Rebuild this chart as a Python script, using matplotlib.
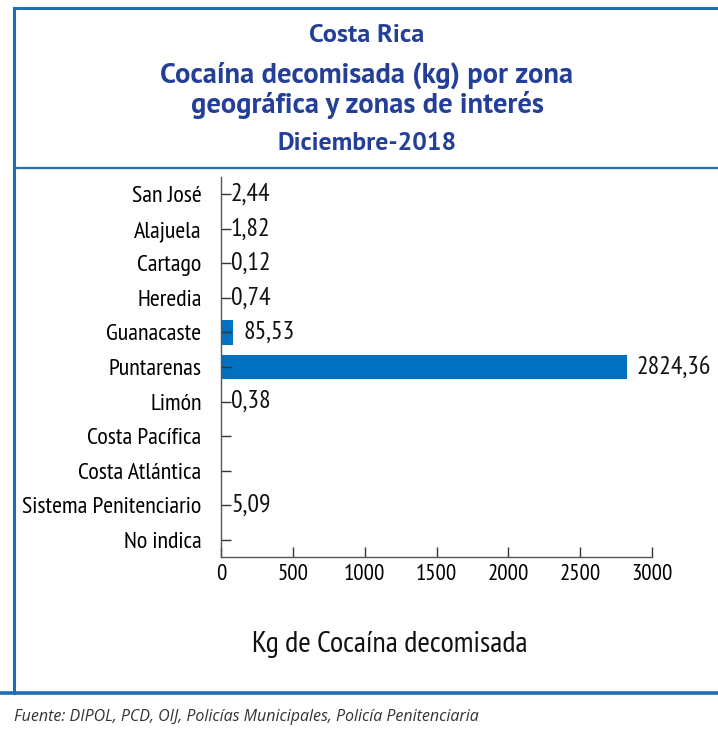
import matplotlib
matplotlib.use("Agg")
import logging
logging.getLogger("matplotlib.font_manager").setLevel(logging.ERROR)
import matplotlib.pyplot as plt
import numpy as np
from matplotlib.lines import Line2D

categories = ["San José", "Alajuela", "Cartago", "Heredia", "Guanacaste", "Puntarenas",
              "Limón", "Costa Pacífica", "Costa Atlántica", "Sistema Penitenciario", "No indica"]
values = [2.44, 1.82, 0.12, 0.74, 85.53, 2824.36, 0.38, np.nan, np.nan, 5.09, np.nan]
xticks = [0, 500, 1000, 1500, 2000, 2500, 3000]

title_lines = ["Costa Rica", "Cocaína decomisada (kg) por zona", "geográfica y zonas de interés", "Diciembre-2018"]
xlabel = "Kg de Cocaína decomisada"
source = "Fuente: DIPOL, PCD, OIJ, Policías Municipales, Policía Penitenciaria"

NARROW = ["PT Sans Narrow", "Roboto Condensed", "Open Sans Condensed", "DejaVu Sans"]
TITLE_FONT = ["PT Sans", "Open Sans", "DejaVu Sans"]
SRC_FONT = ["Open Sans", "DejaVu Sans"]
BLUE = "#0070C0"
TBLUE = "#243F98"

W, H = 718, 732
fig = plt.figure(figsize=(W/100, H/100), dpi=100)
fig.patch.set_facecolor("white")

def fx(px): return px / W
def fy(py): return 1 - py / H

# Frame lines
frame_col = "#1F6FB5"
fig.add_artist(Line2D([fx(14), fx(14)], [fy(8), fy(693)], color=frame_col, lw=2.2, transform=fig.transFigure))
fig.add_artist(Line2D([fx(14), fx(718)], [fy(8), fy(8)], color=frame_col, lw=2.2, transform=fig.transFigure))
fig.add_artist(Line2D([fx(14), fx(718)], [fy(168), fy(168)], color=frame_col, lw=1.6, transform=fig.transFigure))
fig.add_artist(Line2D([0, 1], [fy(693), fy(693)], color=frame_col, lw=2.6, transform=fig.transFigure))

# Titles
fig.text(fx(367), fy(35), title_lines[0], ha="center", va="center", fontsize=19, fontweight="bold",
         color=TBLUE, family=TITLE_FONT)
fig.text(fx(367), fy(75), title_lines[1], ha="center", va="center", fontsize=20.5, fontweight="bold",
         color=TBLUE, family=TITLE_FONT)
fig.text(fx(367), fy(105), title_lines[2], ha="center", va="center", fontsize=20.5, fontweight="bold",
         color=TBLUE, family=TITLE_FONT)
fig.text(fx(367), fy(144), title_lines[3], ha="center", va="center", fontsize=18.5, fontweight="bold",
         color=TBLUE, family=TITLE_FONT)

# Axes
ax_l, ax_r, ax_t, ax_b = 221, 652, 177, 557
ax = fig.add_axes([fx(ax_l), fy(ax_b), fx(ax_r - ax_l), (ax_b - ax_t) / H])
y = np.arange(len(categories))
vals = np.nan_to_num(np.array(values, dtype=float))
ax.barh(y, vals, height=0.72, color=BLUE)
ax.set_ylim(len(categories) - 0.5, -0.5)
ax.set_xlim(0, 3000)
ax.set_xticks(xticks)
ax.set_xticklabels([str(t) for t in xticks], family=NARROW, fontsize=16.5)
ax.set_yticks(y)
ax.set_yticklabels(categories, family=NARROW, fontsize=17.3)
for s in ["top", "right"]:
    ax.spines[s].set_visible(False)
for s in ["left", "bottom"]:
    ax.spines[s].set_color("#555555")
    ax.spines[s].set_linewidth(1.0)
ax.tick_params(axis="y", direction="in", length=7, width=1.0, color="#333333", pad=14)
ax.tick_params(axis="x", direction="in", length=7, width=1.0, color="#333333", pad=5)

for yi, v in zip(y, values):
    if np.isnan(v):
        continue
    lbl = f"{v:.2f}".replace(".", ",")
    ax.annotate(lbl, xy=(v, yi), xytext=(7, 0), textcoords="offset points",
                ha="left", va="center", fontsize=18.5, family=NARROW, color="#111111")

fig.text(fx(390), fy(645), xlabel, ha="center", va="center", fontsize=21.8, family=NARROW, color="#111111")
fig.text(fx(14), fy(717), source, ha="left", va="center", fontsize=11.5, style="italic",
         family=SRC_FONT, color="#333333")

fig.savefig("out.png", dpi=100)
